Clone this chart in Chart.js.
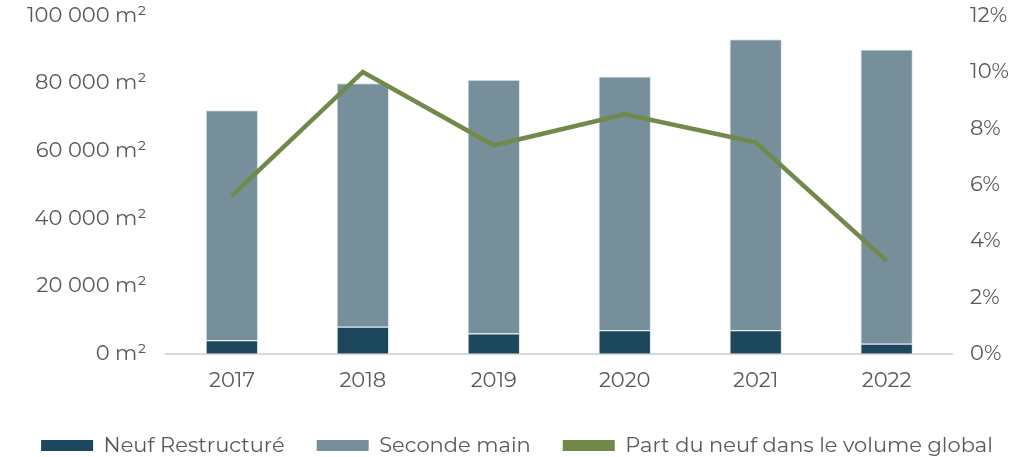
<!DOCTYPE html>
<html>
<head>
<meta charset="utf-8">
<script src="https://cdn.jsdelivr.net/npm/chart.js@4/dist/chart.umd.min.js"></script>
<style>
  html, body { margin: 0; padding: 0; background: #fff; overflow: hidden; }
  #wrap { width: 1033px; height: 457px; overflow: hidden; position: relative; }
  #inner { position: absolute; left: 0; top: -17px; width: 1033px; height: 485px; }
</style>
</head>
<body>
<div id="wrap"><div id="inner"><canvas id="chartSurfaces"></canvas></div></div>
<script>
const annees = ['2017', '2018', '2019', '2020', '2021', '2022'];
const neufRestructure = [4000, 8000, 6000, 7000, 7000, 3000];
const secondeMain = [68000, 72000, 75000, 75000, 86000, 87000];
const partNeuf = [5.6, 10.0, 7.4, 8.5, 7.5, 3.3];

const ticksM2 = [0, 20000, 40000, 60000, 80000, 100000];
const ticksPct = [0, 2, 4, 6, 8, 10, 12];

Chart.defaults.font.family = 'Montserrat, "Noto Sans", sans-serif';
Chart.defaults.font.size = 21;
Chart.defaults.color = '#595959';

const fmtM2 = v => String(v).replace(/\B(?=(\d{3})+(?!\d))/g, ' ') + ' m²';

new Chart(document.getElementById('chartSurfaces'), {
  type: 'bar',
  data: {
    labels: annees,
    datasets: [
      {
        type: 'line',
        label: 'Part du neuf dans le volume global',
        data: partNeuf,
        yAxisID: 'yPct',
        borderColor: '#71894a',
        backgroundColor: '#71894a',
        borderWidth: 4.5,
        pointRadius: 0,
        tension: 0,
        order: 0
      },
      {
        label: 'Neuf Restructuré',
        data: neufRestructure,
        yAxisID: 'y',
        backgroundColor: '#1c475c',
        borderColor: '#dde6ea',
        borderWidth: 1,
        order: 1
      },
      {
        label: 'Seconde main',
        data: secondeMain,
        yAxisID: 'y',
        backgroundColor: '#778f9b',
        borderColor: '#dde6ea',
        borderWidth: 1,
        order: 1
      }
    ]
  },
  options: {
    responsive: true,
    maintainAspectRatio: false,
    animation: false,
    layout: { padding: { left: 7, right: 6, top: 0, bottom: 2 } },
    datasets: { bar: { barPercentage: 0.4, categoryPercentage: 1 } },
    plugins: {
      tooltip: { enabled: false },
      legend: {
        position: 'bottom',
        labels: {
          boxWidth: 52,
          boxHeight: 11,
          padding: 32,
          generateLabels: chart => {
            const ds = chart.data.datasets;
            const ordre = [1, 2, 0];
            return ordre.map(i => ({
              text: ds[i].label,
              fillStyle: ds[i].backgroundColor,
              strokeStyle: ds[i].backgroundColor,
              lineWidth: 0,
              fontColor: '#595959',
              datasetIndex: i
            }));
          }
        }
      }
    },
    scales: {
      x: {
        stacked: true,
        grid: { display: false, drawTicks: false },
        border: { color: '#d9d9d9', width: 2 },
        ticks: { padding: 14 },
        afterFit: s => { s.height -= 4; }
      },
      y: {
        stacked: true,
        position: 'left',
        min: 0,
        max: 100000,
        afterBuildTicks: axis => { axis.ticks = ticksM2.map(v => ({ value: v })); },
        grid: { display: false, drawTicks: false },
        border: { display: false },
        ticks: { padding: 20, callback: v => fmtM2(v) }
      },
      yPct: {
        position: 'right',
        min: 0,
        max: 12,
        afterBuildTicks: axis => { axis.ticks = ticksPct.map(v => ({ value: v })); },
        grid: { display: false, drawTicks: false },
        border: { display: false },
        ticks: { padding: 18, callback: v => v + '%' }
      }
    }
  }
});
</script>
</body>
</html>
